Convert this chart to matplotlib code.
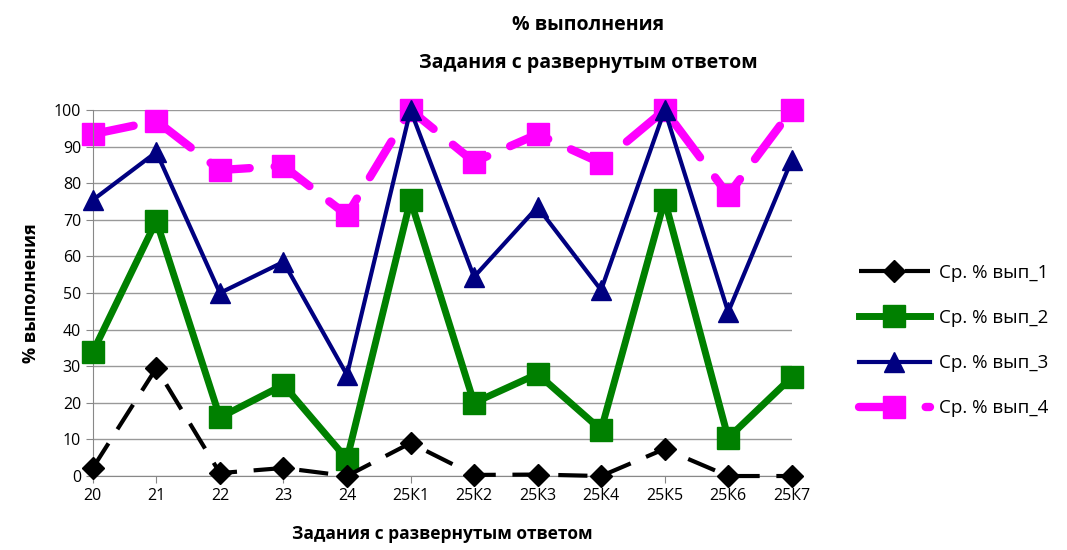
import numpy as np
import matplotlib.pyplot as plt

plt.rcParams['font.family'] = ['Open Sans', 'DejaVu Sans']

categories = ["20", "21", "22", "23", "24", "25К1", "25К2", "25К3", "25К4", "25К5", "25К6", "25К7"]
s1 = [2.2, 29.5, 0.8, 2.2, 0, 9, 0.3, 0.4, 0, 7.4, 0, 0]
s2 = [33.9, 69.7, 16, 24.9, 4.6, 75.4, 20, 27.9, 12.6, 75.4, 10.4, 27]
s3 = [75.4, 88.5, 50, 58.5, 27.6, 100, 54.4, 73.5, 50.8, 100, 44.8, 86.3]
s4 = [93.4, 97, 83.6, 84.7, 71.3, 100, 85.8, 93.4, 85.5, 100, 76.8, 100]
names = ["Ср. % вып_1", "Ср. % вып_2", "Ср. % вып_3", "Ср. % вып_4"]

fig = plt.figure(figsize=(10.67, 5.5), dpi=100)
ax = fig.add_axes([0.087, 0.1345, 0.655, 0.6655])
x = np.arange(len(categories))

ax.plot(x, s1, color="black", lw=3, ls=(0, (7, 4)), marker="D", ms=11,
        label=names[0], clip_on=False, zorder=5)
ax.plot(x, s2, color="#008000", lw=5, marker="s", ms=16,
        label=names[1], clip_on=False, zorder=4)
ax.plot(x, s3, color="#000080", lw=3, marker="^", ms=15,
        label=names[2], clip_on=False, zorder=3)
ax.plot(x, s4, color="#ff00ff", lw=6, ls=(0, (5, 3)), dash_capstyle="round",
        marker="s", ms=16, label=names[3], clip_on=False, zorder=2)

ax.set_xlim(0, len(categories) - 1)
ax.set_ylim(0, 100)
ax.set_yticks(range(0, 101, 10))
ax.set_xticks(x)
ax.set_xticklabels(categories)
ax.tick_params(axis="both", labelsize=11.5, length=5, color="#888888")
ax.grid(axis="y", color="#999999", lw=1)
ax.set_axisbelow(True)
for s in ["top", "right"]:
    ax.spines[s].set_visible(False)
ax.spines["left"].set_color("#888888")
ax.spines["bottom"].set_color("#888888")

ax.set_ylabel("% выполнения", fontsize=13, fontweight="bold", labelpad=10)
ax.set_xlabel("Задания с развернутым ответом", fontsize=12.5, fontweight="bold", labelpad=15)
fig.text(0.551, 0.955, "% выполнения", ha="center", va="center", fontsize=14, fontweight="bold")
fig.text(0.551, 0.885, "Задания с развернутым ответом", ha="center", va="center", fontsize=14, fontweight="bold")

ax.legend(loc="center left", bbox_to_anchor=(1.085, 0.37), frameon=False, fontsize=13.5,
          handlelength=3.8, handletextpad=0.5, labelspacing=1.45, borderaxespad=0)

fig.savefig("out.png", dpi=100)
